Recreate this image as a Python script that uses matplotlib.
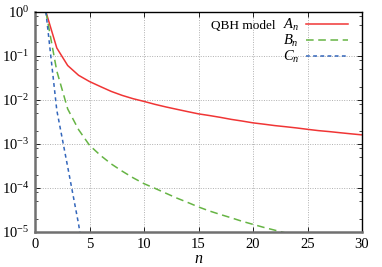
import matplotlib
matplotlib.use("Agg")
import matplotlib.pyplot as plt
from matplotlib.ticker import LogLocator, FixedLocator, NullFormatter

n_A = list(range(1, 31))
A_n = [1.0, 0.15, 0.060, 0.036, 0.026, 0.020, 0.0155, 0.0126, 0.0106, 0.0092,
       0.0079, 0.0069, 0.0061, 0.0054, 0.0048, 0.0044, 0.0040, 0.0036, 0.0033, 0.0030,
       0.0028, 0.0026, 0.00245, 0.0023, 0.00214, 0.0020, 0.0019, 0.00179, 0.00169, 0.0016]
n_B = list(range(1, 26))
B_n = [1.0, 0.045, 0.0062, 0.0021, 0.00093, 0.00055, 0.00035, 0.00024, 0.00017, 0.000125,
       0.000098, 7.6e-5, 5.9e-5, 4.7e-5, 3.7e-5, 3.0e-5, 2.5e-5, 2.1e-5, 1.75e-5, 1.49e-5,
       1.27e-5, 1.1e-5, 9.5e-6, 8.3e-6, 7.3e-6]
n_C = [1, 2, 3, 4, 5]
C_n = [1.0, 0.0058, 3.0e-4, 1.5e-5, 4e-7]

labels = [r"$A_n$", r"$B_n$", r"$C_n$"]
xticks = [0, 5, 10, 15, 20, 25, 30]

plt.rcParams['font.family'] = ['Liberation Serif', 'DejaVu Serif']
plt.rcParams['mathtext.fontset'] = 'custom'
plt.rcParams['mathtext.rm'] = 'Liberation Serif'
plt.rcParams['mathtext.it'] = 'Liberation Serif:italic'

fig = plt.figure(figsize=(3.82, 2.67), dpi=100)
ax = fig.add_axes([35/382, 1-232/267, (362-35)/382, (232-11.7)/267])

ax.plot(n_A, A_n, color='#f03535', lw=1.1, label=labels[0])
ax.plot(n_B, B_n, color='#66b444', lw=1.1, dashes=(5, 3), label=labels[1])
ax.plot(n_C, C_n, color='#3366bb', lw=1.1, dashes=(2.5, 2.2), label=labels[2])

ax.set_yscale('log')
ax.set_xlim(0, 30)
ax.set_ylim(1e-5, 1)
ax.xaxis.set_major_locator(FixedLocator(xticks))
ax.yaxis.set_major_locator(LogLocator(base=10, numticks=10))
ax.yaxis.set_minor_locator(LogLocator(base=10, subs=(2, 5, 8), numticks=10))
ax.yaxis.set_minor_formatter(NullFormatter())
ax.grid(True, which='major', color='#b0b0b0', linestyle=(0, (1, 1.5)), lw=0.7)
ax.tick_params(which='both', direction='in', top=True, right=True, labelsize=10.5, colors='black')
ax.tick_params(which='major', length=3.5, width=0.6, pad=4)
ax.tick_params(which='minor', length=2, width=0.5)
for s in ['left', 'bottom']:
    ax.spines[s].set_color('#707070')
    ax.spines[s].set_linewidth(1.8)
for s in ['top', 'right']:
    ax.spines[s].set_color('black')
    ax.spines[s].set_linewidth(1.0)

ax.set_xlabel(r"$n$", fontsize=11.5, labelpad=0)

leg = ax.legend(loc='upper right', frameon=False, markerfirst=False, fontsize=10.5,
                handlelength=2.9, handletextpad=0.45, labelspacing=0.0,
                borderaxespad=0.0, borderpad=0.25, bbox_to_anchor=(0.968, 0.994))
ax.text(0.734, 0.935, "QBH model", transform=ax.transAxes, fontsize=9.5, ha='right', va='center')

fig.savefig("out.png", dpi=100)
